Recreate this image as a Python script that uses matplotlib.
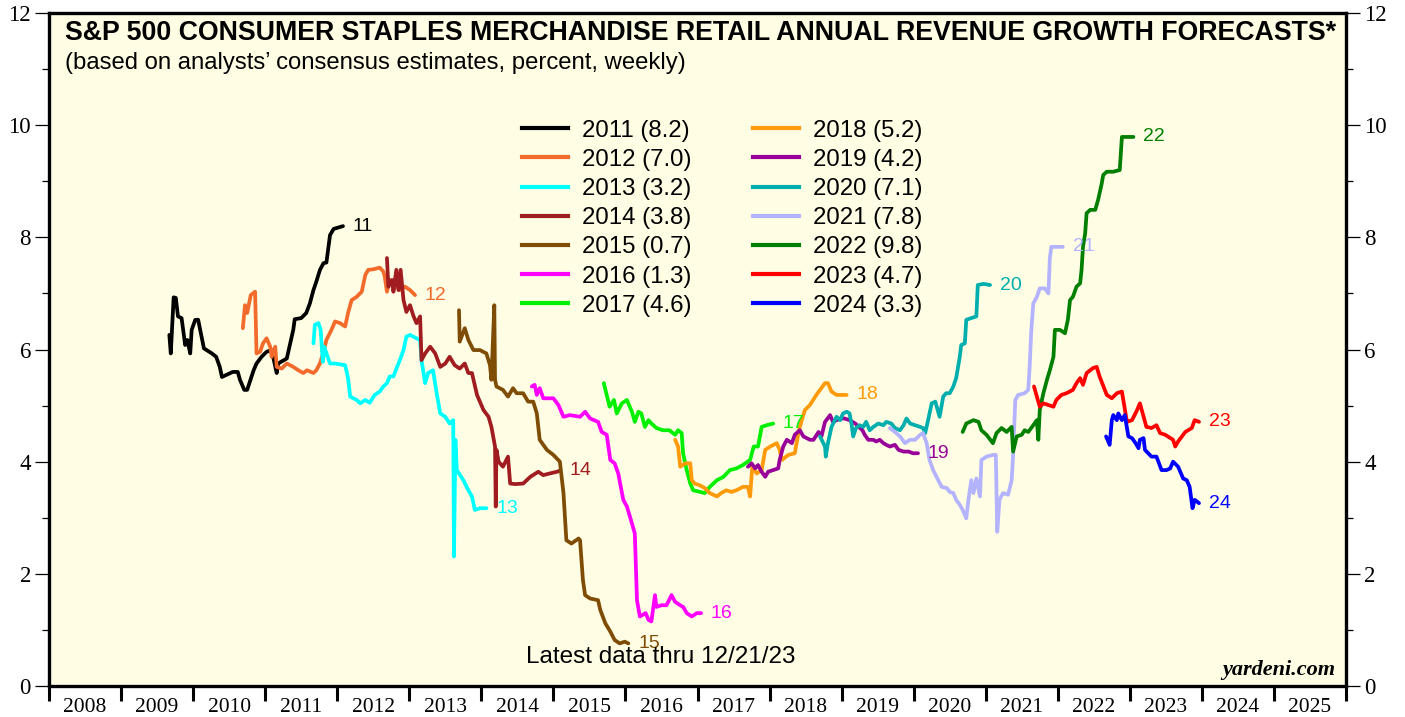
import matplotlib
matplotlib.use("Agg")
import matplotlib.pyplot as plt
from matplotlib.lines import Line2D

plt.rcParams['font.family'] = ['Liberation Sans', 'DejaVu Sans']

# ---------- DATA (decimal year, percent) ----------
x_2011 = [2009.67, 2009.69, 2009.73, 2009.76, 2009.79, 2009.84, 2009.89, 2009.92, 2009.96, 2009.98,
          2010.03, 2010.07, 2010.15, 2010.26, 2010.32, 2010.37, 2010.40, 2010.55, 2010.62, 2010.65,
          2010.71, 2010.75, 2010.84, 2010.88, 2010.95, 2011.02, 2011.09, 2011.16, 2011.18, 2011.30,
          2011.39, 2011.41, 2011.50, 2011.57, 2011.62, 2011.67, 2011.71, 2011.76, 2011.81, 2011.85,
          2011.90, 2011.95, 2012.08]
y_2011 = [6.26, 5.93, 6.93, 6.92, 6.59, 6.56, 6.08, 6.17, 5.93, 6.35,
          6.53, 6.53, 6.02, 5.93, 5.87, 5.69, 5.51, 5.60, 5.60, 5.46,
          5.28, 5.28, 5.63, 5.75, 5.87, 5.96, 5.99, 5.58, 5.75, 5.84,
          6.35, 6.54, 6.56, 6.65, 6.82, 7.06, 7.21, 7.42, 7.54, 7.55,
          8.04, 8.15, 8.20]

x_2012 = [2010.69, 2010.72, 2010.75, 2010.80, 2010.86, 2010.88, 2010.93, 2010.97, 2011.02, 2011.07,
          2011.09, 2011.14, 2011.16, 2011.23, 2011.30, 2011.39, 2011.46, 2011.53, 2011.58, 2011.67,
          2011.71, 2011.76, 2011.81, 2011.85, 2011.92, 2011.97, 2012.04, 2012.11, 2012.15, 2012.20,
          2012.27, 2012.34, 2012.39, 2012.43, 2012.50, 2012.59, 2012.64, 2012.66, 2012.69, 2012.73,
          2012.80, 2012.83, 2012.87, 2012.94, 2013.01, 2013.08]
y_2012 = [6.38, 6.79, 6.65, 6.97, 7.03, 5.93, 5.96, 6.11, 6.20, 6.05,
          5.87, 6.05, 5.69, 5.66, 5.75, 5.69, 5.63, 5.58, 5.63, 5.58,
          5.63, 5.75, 5.96, 6.17, 6.35, 6.50, 6.47, 6.41, 6.65, 6.88,
          6.94, 7.03, 7.33, 7.42, 7.43, 7.46, 7.39, 7.30, 7.03, 7.24,
          7.09, 7.33, 7.06, 7.12, 7.06, 6.97]

x_2013 = [2011.67, 2011.69, 2011.74, 2011.77, 2011.80, 2011.82, 2011.85, 2011.90, 2011.97, 2012.11,
          2012.15, 2012.18, 2012.27, 2012.32, 2012.39, 2012.45, 2012.52, 2012.59, 2012.64, 2012.69,
          2012.73, 2012.78, 2012.83, 2012.87, 2012.92, 2012.96, 2013.01, 2013.10, 2013.15, 2013.17,
          2013.22, 2013.26, 2013.33, 2013.38, 2013.43, 2013.50, 2013.56, 2013.61, 2013.62, 2013.64,
          2013.66, 2013.75, 2013.82, 2013.87, 2013.91, 2013.98, 2014.07]
y_2013 = [6.11, 6.44, 6.47, 6.35, 5.78, 6.05, 5.93, 5.75, 5.75, 5.72,
          5.49, 5.16, 5.10, 5.04, 5.10, 5.05, 5.19, 5.25, 5.34, 5.40,
          5.52, 5.52, 5.69, 5.81, 5.99, 6.23, 6.26, 6.20, 6.17, 5.81,
          5.40, 5.58, 5.63, 5.22, 4.86, 4.80, 4.68, 4.74, 2.31, 4.39,
          3.85, 3.67, 3.49, 3.38, 3.14, 3.17, 3.17]

x_2014 = [2012.69, 2012.71, 2012.76, 2012.78, 2012.82, 2012.85, 2012.88, 2012.92, 2012.96, 2013.01,
          2013.06, 2013.10, 2013.15, 2013.17, 2013.22, 2013.29, 2013.36, 2013.43, 2013.50, 2013.56,
          2013.63, 2013.70, 2013.77, 2013.82, 2013.87, 2013.94, 2014.03, 2014.10, 2014.14, 2014.19,
          2014.20, 2014.21, 2014.24, 2014.30, 2014.37, 2014.40, 2014.47, 2014.58, 2014.68, 2014.79,
          2014.86, 2014.95, 2015.05, 2015.09]
y_2014 = [7.63, 7.12, 7.24, 7.03, 7.42, 7.06, 7.42, 6.88, 6.67, 6.79,
          6.59, 6.47, 6.59, 5.81, 5.93, 6.05, 5.93, 5.69, 5.75, 5.87,
          5.72, 5.66, 5.75, 5.58, 5.58, 5.19, 4.92, 4.80, 4.62, 4.27,
          3.20, 4.21, 4.00, 3.91, 4.09, 3.61, 3.60, 3.61, 3.73, 3.82,
          3.76, 3.79, 3.82, 3.84]

x_2015 = [2013.69, 2013.70, 2013.77, 2013.82, 2013.89, 2013.98, 2014.07, 2014.12, 2014.14, 2014.18,
          2014.19, 2014.21, 2014.30, 2014.37, 2014.44, 2014.49, 2014.58, 2014.65, 2014.72, 2014.77,
          2014.81, 2014.91, 2015.00, 2015.09, 2015.14, 2015.18, 2015.25, 2015.35, 2015.37, 2015.41,
          2015.44, 2015.51, 2015.62, 2015.65, 2015.72, 2015.79, 2015.85, 2015.92, 2015.99, 2016.04]
y_2015 = [6.70, 6.14, 6.38, 6.17, 5.99, 5.99, 5.93, 5.72, 5.46, 6.79,
          5.46, 5.34, 5.28, 5.16, 5.31, 5.22, 5.22, 5.07, 5.07, 4.86,
          4.39, 4.21, 4.12, 4.00, 3.44, 2.60, 2.54, 2.63, 2.60, 1.89,
          1.62, 1.56, 1.53, 1.36, 1.12, 0.97, 0.82, 0.76, 0.79, 0.76]

x_2016 = [2014.70, 2014.74, 2014.77, 2014.81, 2014.86, 2015.00, 2015.07, 2015.14, 2015.23, 2015.37,
          2015.44, 2015.51, 2015.62, 2015.67, 2015.74, 2015.79, 2015.85, 2015.90, 2015.97, 2016.02,
          2016.09, 2016.13, 2016.16, 2016.20, 2016.28, 2016.32, 2016.36, 2016.41, 2016.43, 2016.50,
          2016.57, 2016.64, 2016.69, 2016.76, 2016.80, 2016.85, 2016.92, 2016.99, 2017.05]
y_2016 = [5.34, 5.37, 5.19, 5.31, 5.13, 5.13, 5.01, 4.80, 4.83, 4.80,
          4.89, 4.77, 4.71, 4.53, 4.48, 4.03, 3.97, 3.79, 3.32, 3.20,
          2.90, 2.72, 1.53, 1.24, 1.30, 1.18, 1.15, 1.62, 1.41, 1.44,
          1.44, 1.62, 1.50, 1.44, 1.41, 1.30, 1.24, 1.30, 1.30]

x_2017 = [2015.70, 2015.78, 2015.84, 2015.88, 2015.95, 2016.02, 2016.09, 2016.13, 2016.18, 2016.22,
          2016.27, 2016.32, 2016.36, 2016.43, 2016.52, 2016.61, 2016.69, 2016.73, 2016.78, 2016.80,
          2016.85, 2016.90, 2016.94, 2017.04, 2017.10, 2017.17, 2017.27, 2017.36, 2017.45, 2017.54,
          2017.63, 2017.73, 2017.78, 2017.84, 2017.89, 2017.96, 2018.05]
y_2017 = [5.40, 4.98, 5.10, 4.86, 5.04, 5.10, 4.89, 4.71, 4.89, 4.86,
          4.62, 4.74, 4.68, 4.60, 4.56, 4.56, 4.48, 4.56, 4.51, 4.15,
          3.85, 3.61, 3.49, 3.46, 3.44, 3.55, 3.67, 3.73, 3.85, 3.88,
          3.94, 4.03, 4.27, 4.27, 4.62, 4.65, 4.68]

x_2018 = [2016.69, 2016.73, 2016.76, 2016.83, 2016.90, 2016.92, 2016.96, 2017.03, 2017.10, 2017.17,
          2017.27, 2017.33, 2017.40, 2017.47, 2017.54, 2017.63, 2017.70, 2017.73, 2017.76, 2017.82,
          2017.89, 2017.94, 2018.01, 2018.10, 2018.14, 2018.17, 2018.26, 2018.35, 2018.40, 2018.44,
          2018.49, 2018.56, 2018.65, 2018.70, 2018.77, 2018.81, 2018.86, 2018.93, 2019.07]
y_2018 = [4.39, 4.27, 3.91, 3.97, 3.97, 3.67, 3.61, 3.58, 3.53, 3.44,
          3.38, 3.44, 3.49, 3.46, 3.49, 3.55, 3.55, 3.38, 3.91, 3.79,
          3.85, 4.21, 4.27, 4.33, 4.21, 4.03, 4.12, 4.15, 4.51, 4.71,
          4.92, 5.01, 5.19, 5.28, 5.40, 5.40, 5.25, 5.19, 5.19]

x_2019 = [2017.70, 2017.75, 2017.80, 2017.84, 2017.89, 2017.94, 2017.98, 2018.05, 2018.12, 2018.14,
          2018.19, 2018.24, 2018.31, 2018.35, 2018.42, 2018.47, 2018.56, 2018.61, 2018.68, 2018.72,
          2018.77, 2018.84, 2018.88, 2018.93, 2019.00, 2019.04, 2019.11, 2019.19, 2019.24, 2019.29,
          2019.32, 2019.37, 2019.44, 2019.48, 2019.53, 2019.58, 2019.62, 2019.67, 2019.74, 2019.79,
          2019.86, 2019.93, 2019.99, 2020.06]
y_2019 = [3.91, 3.97, 3.88, 3.94, 3.82, 3.73, 3.82, 3.85, 3.88, 4.03,
          4.27, 4.39, 4.33, 4.48, 4.56, 4.45, 4.39, 4.39, 4.53, 4.45,
          4.71, 4.83, 4.71, 4.74, 4.77, 4.77, 4.74, 4.68, 4.62, 4.56,
          4.48, 4.39, 4.39, 4.36, 4.39, 4.33, 4.30, 4.27, 4.30, 4.21,
          4.18, 4.18, 4.15, 4.15]

x_2020 = [2018.70, 2018.77, 2018.78, 2018.81, 2018.86, 2018.93, 2018.98, 2019.02, 2019.07, 2019.11,
          2019.14, 2019.16, 2019.20, 2019.25, 2019.30, 2019.34, 2019.39, 2019.44, 2019.51, 2019.58,
          2019.62, 2019.69, 2019.74, 2019.81, 2019.86, 2019.90, 2019.95, 2020.02, 2020.09, 2020.13,
          2020.16, 2020.20, 2020.25, 2020.30, 2020.36, 2020.41, 2020.45, 2020.50, 2020.55, 2020.59,
          2020.64, 2020.66, 2020.71, 2020.73, 2020.80, 2020.87, 2020.89, 2020.97, 2021.06]
y_2020 = [4.45, 4.27, 4.09, 4.33, 4.62, 4.80, 4.74, 4.86, 4.89, 4.86,
          4.65, 4.45, 4.60, 4.65, 4.62, 4.71, 4.56, 4.62, 4.68, 4.65,
          4.71, 4.68, 4.60, 4.56, 4.65, 4.77, 4.68, 4.65, 4.62, 4.60,
          4.51, 4.74, 5.04, 5.07, 4.80, 5.16, 5.22, 5.22, 5.34, 5.49,
          5.87, 6.08, 6.11, 6.53, 6.56, 6.59, 7.15, 7.17, 7.15]

x_2021 = [2019.67, 2019.74, 2019.81, 2019.88, 2019.95, 2020.02, 2020.09, 2020.13, 2020.18, 2020.22,
          2020.27, 2020.34, 2020.39, 2020.46, 2020.50, 2020.55, 2020.59, 2020.64, 2020.68, 2020.73,
          2020.76, 2020.80, 2020.83, 2020.87, 2020.92, 2020.94, 2021.01, 2021.10, 2021.14, 2021.16,
          2021.19, 2021.24, 2021.31, 2021.36, 2021.38, 2021.41, 2021.45, 2021.54, 2021.59, 2021.61,
          2021.63, 2021.66, 2021.71, 2021.75, 2021.82, 2021.87, 2021.89, 2021.91, 2021.98, 2022.07]
y_2021 = [4.60, 4.53, 4.45, 4.33, 4.39, 4.39, 4.48, 4.51, 4.33, 4.03,
          3.85, 3.67, 3.55, 3.53, 3.46, 3.44, 3.32, 3.23, 3.14, 2.99,
          3.32, 3.67, 3.44, 3.70, 3.38, 4.03, 4.09, 4.12, 4.12, 2.75,
          3.32, 3.44, 3.41, 3.67, 4.12, 5.10, 5.19, 5.22, 5.28, 5.69,
          6.29, 6.82, 6.94, 7.09, 7.09, 7.00, 7.63, 7.83, 7.83, 7.83]

x_2022 = [2020.68, 2020.73, 2020.83, 2020.90, 2020.94, 2021.01, 2021.10, 2021.15, 2021.22, 2021.29,
          2021.36, 2021.38, 2021.43, 2021.50, 2021.54, 2021.59, 2021.66, 2021.71, 2021.73, 2021.75,
          2021.80, 2021.85, 2021.89, 2021.94, 2021.96, 2022.03, 2022.10, 2022.14, 2022.17, 2022.21,
          2022.26, 2022.31, 2022.33, 2022.35, 2022.38, 2022.40, 2022.45, 2022.52, 2022.56, 2022.61,
          2022.63, 2022.68, 2022.77, 2022.86, 2022.89, 2022.98, 2023.05]
y_2022 = [4.53, 4.68, 4.74, 4.71, 4.56, 4.48, 4.33, 4.51, 4.60, 4.53,
          4.62, 4.18, 4.45, 4.48, 4.56, 4.53, 4.65, 4.74, 4.39, 4.92,
          5.22, 5.46, 5.63, 5.87, 6.35, 6.35, 6.29, 6.53, 6.88, 6.94,
          7.12, 7.18, 7.42, 7.83, 8.07, 8.43, 8.49, 8.49, 8.67, 8.96,
          9.11, 9.17, 9.17, 9.20, 9.79, 9.79, 9.79]

x_2023 = [2021.67, 2021.75, 2021.80, 2021.94, 2021.98, 2022.05, 2022.12, 2022.21, 2022.26, 2022.31,
          2022.35, 2022.40, 2022.49, 2022.54, 2022.58, 2022.68, 2022.75, 2022.82, 2022.89, 2022.96,
          2023.03, 2023.09, 2023.14, 2023.23, 2023.30, 2023.37, 2023.42, 2023.49, 2023.60, 2023.63,
          2023.67, 2023.77, 2023.86, 2023.90, 2023.96]
y_2023 = [5.34, 4.98, 5.04, 4.98, 5.10, 5.19, 5.22, 5.28, 5.40, 5.49,
          5.37, 5.58, 5.67, 5.69, 5.52, 5.19, 5.13, 5.22, 5.25, 4.71,
          4.74, 4.89, 5.04, 4.62, 4.60, 4.65, 4.51, 4.48, 4.39, 4.27,
          4.36, 4.53, 4.60, 4.74, 4.71]

x_2024 = [2022.67, 2022.72, 2022.75, 2022.77, 2022.82, 2022.84, 2022.89, 2022.93, 2022.98, 2023.03,
          2023.08, 2023.12, 2023.14, 2023.19, 2023.21, 2023.30, 2023.37, 2023.44, 2023.51, 2023.56,
          2023.60, 2023.67, 2023.74, 2023.79, 2023.83, 2023.87, 2023.90, 2023.96]
y_2024 = [4.45, 4.30, 4.74, 4.83, 4.74, 4.86, 4.74, 4.83, 4.45, 4.42,
          4.33, 4.24, 4.39, 4.42, 4.21, 4.09, 4.09, 3.85, 3.85, 3.88,
          4.00, 3.91, 3.70, 3.67, 3.55, 3.17, 3.32, 3.26]

years = ['2011', '2012', '2013', '2014', '2015', '2016', '2017',
         '2018', '2019', '2020', '2021', '2022', '2023', '2024']
latest = ['8.2', '7.0', '3.2', '3.8', '0.7', '1.3', '4.6',
          '5.2', '4.2', '7.1', '7.8', '9.8', '4.7', '3.3']
colors = ['#000000', '#F26B2C', '#00FFFF', '#A01C20', '#7F4C05', '#FF00FF', '#00F000',
          '#FF9A0A', '#990099', '#00AEAE', '#B3B3FF', '#007F00', '#FF0000', '#0000FF']
series = [(x_2011, y_2011), (x_2012, y_2012), (x_2013, y_2013), (x_2014, y_2014),
          (x_2015, y_2015), (x_2016, y_2016), (x_2017, y_2017), (x_2018, y_2018),
          (x_2019, y_2019), (x_2020, y_2020), (x_2021, y_2021), (x_2022, y_2022),
          (x_2023, y_2023), (x_2024, y_2024)]

BG = '#FFFEE4'
LW = 2.7

# ---------- PLOT ----------
fig = plt.figure(figsize=(14.05, 7.17), dpi=100)
ax = fig.add_axes([49 / 1405, 31 / 717, 1297 / 1405, 673 / 717])
ax.set_facecolor(BG)

for (xs, ys), yr, col in zip(series, years, colors):
    ax.plot(xs, ys, color=col, lw=LW, solid_joinstyle='round', solid_capstyle='round')
    ax.annotate(yr[2:], (xs[-1], ys[-1]), xytext=(7, 0), textcoords='offset points',
                color=col, fontsize=14, va='center', ha='left')

handles = [Line2D([0], [0], color=c, lw=3) for c in colors]
labels = [f"{y} ({v})" for y, v in zip(years, latest)]
ax.legend(handles, labels, ncol=2, loc='upper left', bbox_to_anchor=(522 / 1405, 1 - 119.5 / 717),
          bbox_transform=fig.transFigure, frameon=False, fontsize=17.3, handlelength=1.92,
          handletextpad=0.58, columnspacing=2.55, labelspacing=0.3, borderpad=0, borderaxespad=0)

ax.set_xlim(2008, 2026)
ax.set_ylim(0, 12)

# x axis: ticks at year boundaries, labels centred in each year
ax.set_xticks(range(2008, 2027))
ax.set_xticklabels([])
ax.set_xticks([y + 0.5 for y in range(2008, 2026)], minor=True)
ax.set_xticklabels([str(y) for y in range(2008, 2026)], minor=True,
                   fontfamily='Liberation Serif', fontsize=15.5)
ax.tick_params(axis='x', which='major', direction='out', length=11, width=2.2, top=False)
ax.tick_params(axis='x', which='minor', length=0, pad=9)

ax.set_yticks(range(0, 13, 2))
ax.set_yticks(range(1, 13, 2), minor=True)
ax.set_yticklabels([str(v) for v in range(0, 13, 2)], fontfamily='Liberation Serif', fontsize=16.5)
ax.tick_params(axis='y', which='both', direction='out', left=True, right=True,
               labelleft=True, labelright=True)
ax.tick_params(axis='y', which='major', length=10, width=0.9, pad=3)
ax.tick_params(axis='y', which='minor', length=5, width=0.9)

for s in ax.spines.values():
    s.set_linewidth(2.4)

ax.text(0.0123, 0.970, "S&P 500 CONSUMER STAPLES MERCHANDISE RETAIL ANNUAL REVENUE GROWTH FORECASTS*",
        transform=ax.transAxes, fontsize=19.3, fontweight='bold', va='center', ha='left')
ax.text(0.0123, 0.925, "(based on analysts\u2019 consensus estimates, percent, weekly)",
        transform=ax.transAxes, fontsize=17.2, va='center', ha='left')
ax.text(0.368, 0.043, "Latest data thru 12/21/23", transform=ax.transAxes,
        fontsize=17.5, va='center', ha='left')
ax.text(0.9915, 0.024, "yardeni.com", transform=ax.transAxes, fontfamily='Liberation Serif',
        fontsize=16, fontweight='bold', fontstyle='italic', va='center', ha='right')

fig.savefig("out.png", dpi=100, facecolor='white')
